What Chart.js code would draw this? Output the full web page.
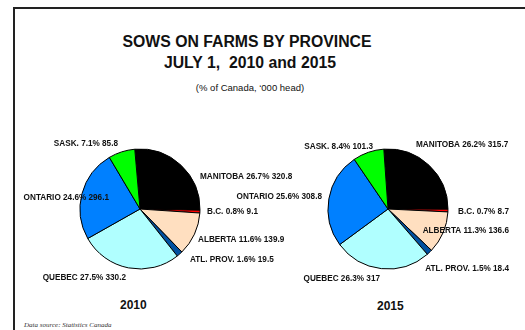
<!DOCTYPE html>
<html>
<head>
<meta charset="utf-8">
<script src="https://cdn.jsdelivr.net/npm/chart.js@4/dist/chart.umd.min.js"></script>
<style>
  html, body { margin: 0; padding: 0; background: #fff; }
  body { width: 525px; height: 330px; position: relative; overflow: hidden; font-family: 'Liberation Sans', Arial, sans-serif; }
  .frame { position: absolute; left: 13px; top: 7px; width: 600px; height: 400px; border-top: 2px solid #222; border-left: 2px solid #222; }
  .txt { position: absolute; white-space: nowrap; color: #111; }
  .title { font-weight: bold; font-size: 15.8px; left: 0; width: 494px; text-align: center; }
  .sub { font-size: 9.5px; left: 0; width: 500px; text-align: center; top: 82px; }
  .year { font-weight: bold; font-size: 12px; }
  .src { font-family: 'Liberation Serif', 'Times New Roman', serif; font-style: italic; font-size: 7px; left: 24px; top: 321px; color: #333; }
  canvas { position: absolute; }
</style>
</head>
<body>
<div class="frame"></div>
<div class="txt title" style="top: 33px;">SOWS ON FARMS BY PROVINCE</div>
<div class="txt title" style="top: 54px; left: 3px;">JULY 1,&nbsp; 2010 and 2015</div>
<div class="txt sub">(% of Canada, ‘000 head)</div>
<div class="txt year" style="left: 120px; top: 298px;">2010</div>
<div class="txt year" style="left: 377px; top: 299px;">2015</div>
<div class="txt src">Data source: Statistics Canada</div>

<div style="position:absolute;left:0;top:120px;width:320px;height:180px;"><canvas id="pie2010"></canvas></div>
<div style="position:absolute;left:220px;top:120px;width:305px;height:180px;"><canvas id="pie2015"></canvas></div>

<script>
// provinces in drawing order, clockwise from the top
const provinces = ['MANITOBA', 'B.C.', 'ALBERTA', 'ATL. PROV.', 'QUEBEC', 'ONTARIO', 'SASK.'];
// sows on farms, '000 head
const sows2010 = [320.8, 9.1, 139.9, 19.5, 330.2, 296.1, 85.8];
const sows2015 = [315.7, 8.7, 136.6, 18.4, 317, 308.8, 101.3];

const SLICE_COLORS = ['#000000', '#ff0000', '#ffdfc0', '#0050a0', '#b0ffff', '#0080ff', '#00ff00'];

// label anchors relative to the pie centre: [dx, dy, align]
const LABELS_2010 = [
  [60, -32, 'left'], [67, 3, 'left'], [58, 31, 'left'], [50, 51, 'left'],
  [-14, 69, 'right'], [-31, -11, 'right'], [-22, -65, 'right'],
];
const LABELS_2015 = [
  [28, -64, 'left'], [121, 3, 'right'], [121, 22, 'right'], [121, 60, 'right'],
  [-8, 70, 'right'], [-66, -12, 'right'], [-15, -62, 'right'],
];

const sliceLabels = {
  id: 'sliceLabels',
  afterDatasetsDraw(chart, args, opts) {
    const ctx = chart.ctx;
    const data = chart.data.datasets[0].data;
    const total = data.reduce((a, b) => a + b, 0);
    const arc = chart.getDatasetMeta(0).data[0];
    ctx.save();
    ctx.font = "bold 8.2px 'Liberation Sans', Arial, sans-serif";
    ctx.fillStyle = '#111';
    ctx.textBaseline = 'middle';
    data.forEach((v, i) => {
      const [dx, dy, align] = opts.anchors[i];
      const pct = (v / total * 100).toFixed(1);
      ctx.textAlign = align;
      ctx.fillText(`${chart.data.labels[i]} ${pct}% ${v}`, arc.x + dx, arc.y + dy);
    });
    ctx.restore();
  },
};

function createPie(id, values, anchors, padding, rotation) {
  return new Chart(document.getElementById(id), {
    type: 'pie',
    data: {
      labels: provinces,
      datasets: [{
        data: values,
        backgroundColor: SLICE_COLORS,
        borderColor: '#000',
        borderWidth: 1,
      }],
    },
    options: {
      responsive: true,
      maintainAspectRatio: false,
      animation: false,
      radius: 60,
      rotation,
      layout: { padding },
      plugins: {
        legend: { display: false },
        tooltip: { enabled: false },
        sliceLabels: { anchors },
      },
    },
    plugins: [sliceLabels],
  });
}

createPie('pie2010', sows2010, LABELS_2010, { left: 0, right: 40, top: 0, bottom: 2 }, -5);
createPie('pie2015', sows2015, LABELS_2015, { left: 31, right: 0, top: 0, bottom: 2 }, -4);
</script>
</body>
</html>
